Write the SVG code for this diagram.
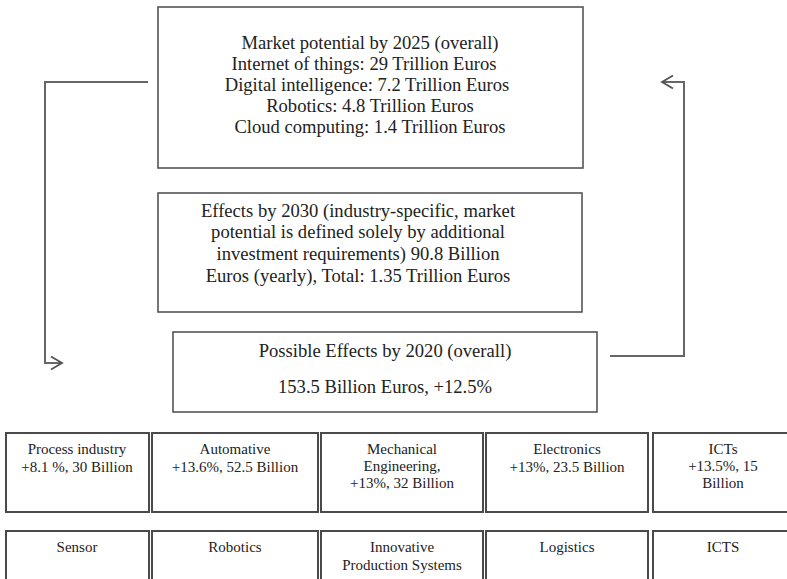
<svg xmlns="http://www.w3.org/2000/svg" width="787" height="579" viewBox="0 0 787 579">
<style>
.box{fill:#fff;stroke:#555;stroke-width:1.6}
.cell{fill:#fff;stroke:#4a4a4a;stroke-width:2}
.t{font-family:"Liberation Serif","Times New Roman",serif;font-size:18.6px;fill:#222;text-anchor:middle}
.s{font-family:"Liberation Serif","Times New Roman",serif;font-size:15px;fill:#222;text-anchor:middle}
.c{fill:none;stroke:#666;stroke-width:2}
</style>
<defs>
<marker id="arr" markerUnits="userSpaceOnUse" markerWidth="14" markerHeight="16" refX="12" refY="7" orient="auto">
<path d="M1,0.5 L12,7 L1,13.5" fill="none" stroke="#555" stroke-width="1.8"/>
</marker>
</defs>
<rect width="787" height="579" fill="#fff"/>
<g id="connectors">
<polyline class="c" points="148,82 45,82 45,363 62,363" marker-end="url(#arr)"/>
<polyline class="c" points="610,356 684,356 684,82 662,82" marker-end="url(#arr)"/>
</g>
<g id="market2025">
<rect class="box" x="158" y="7" width="425" height="161"/>
<text class="t" x="370" y="49">Market potential by 2025 (overall)</text>
<text class="t" x="364" y="70">Internet of things: 29 Trillion Euros</text>
<text class="t" x="367" y="91">Digital intelligence: 7.2 Trillion Euros</text>
<text class="t" x="370" y="112">Robotics: 4.8 Trillion Euros</text>
<text class="t" x="370" y="133">Cloud computing: 1.4 Trillion Euros</text>
</g>
<g id="effects2030">
<rect class="box" x="158" y="193" width="424" height="119"/>
<text class="t" x="358" y="217">Effects by 2030 (industry-specific, market</text>
<text class="t" x="358" y="238">potential is defined solely by additional</text>
<text class="t" x="358" y="260">investment requirements) 90.8 Billion</text>
<text class="t" x="358" y="282">Euros (yearly), Total: 1.35 Trillion Euros</text>
</g>
<g id="effects2020">
<rect class="box" x="173" y="332" width="424" height="80"/>
<text class="t" x="385" y="357">Possible Effects by 2020 (overall)</text>
<text class="t" x="385" y="393">153.5 Billion Euros, +12.5%</text>
</g>
<g id="process">
<rect class="cell" x="6" y="433" width="143" height="79"/>
<text class="s" x="77" y="454">Process industry</text>
<text class="s" x="77" y="472">+8.1 %, 30 Billion</text>
</g>
<g id="automative">
<rect class="cell" x="152" y="433" width="166" height="79"/>
<text class="s" x="235" y="454">Automative</text>
<text class="s" x="235" y="472">+13.6%, 52.5 Billion</text>
</g>
<g id="mechanical">
<rect class="cell" x="321" y="433" width="162" height="79"/>
<text class="s" x="402" y="454">Mechanical</text>
<text class="s" x="402" y="471">Engineering,</text>
<text class="s" x="402" y="488">+13%, 32 Billion</text>
</g>
<g id="electronics">
<rect class="cell" x="486" y="433" width="162" height="79"/>
<text class="s" x="567" y="454">Electronics</text>
<text class="s" x="567" y="472">+13%, 23.5 Billion</text>
</g>
<g id="icts1">
<rect class="cell" x="653" y="433" width="140" height="79"/>
<text class="s" x="723" y="454">ICTs</text>
<text class="s" x="723" y="471">+13.5%, 15</text>
<text class="s" x="723" y="488">Billion</text>
</g>
<g id="sensor">
<rect class="cell" x="6" y="531" width="143" height="60"/>
<text class="s" x="77" y="552">Sensor</text>
</g>
<g id="robotics">
<rect class="cell" x="152" y="531" width="166" height="60"/>
<text class="s" x="235" y="552">Robotics</text>
</g>
<g id="innovative">
<rect class="cell" x="321" y="531" width="162" height="60"/>
<text class="s" x="402" y="552">Innovative</text>
<text class="s" x="402" y="570">Production Systems</text>
</g>
<g id="logistics">
<rect class="cell" x="486" y="531" width="162" height="60"/>
<text class="s" x="567" y="552">Logistics</text>
</g>
<g id="icts2">
<rect class="cell" x="653" y="531" width="140" height="60"/>
<text class="s" x="723" y="552">ICTS</text>
</g>
</svg>
